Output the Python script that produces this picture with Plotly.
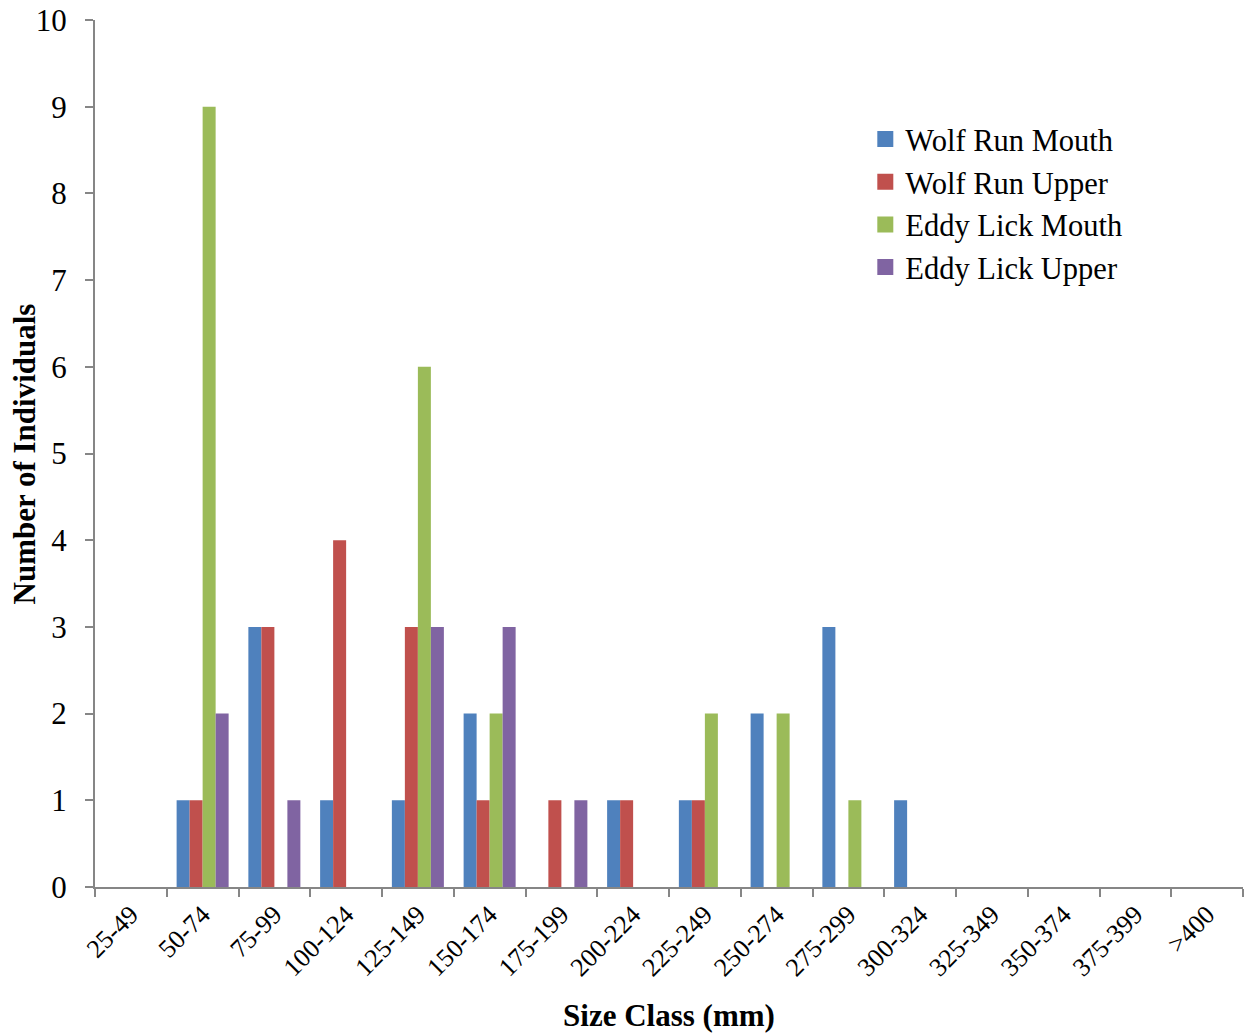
import plotly.graph_objects as go

categories = ["25-49", "50-74", "75-99", "100-124", "125-149", "150-174", "175-199",
              "200-224", "225-249", "250-274", "275-299", "300-324", "325-349",
              "350-374", "375-399", ">400"]
wolf_run_mouth = [0, 1, 3, 1, 1, 2, 0, 1, 1, 2, 3, 1, 0, 0, 0, 0]
wolf_run_upper = [0, 1, 3, 4, 3, 1, 1, 1, 1, 0, 0, 0, 0, 0, 0, 0]
eddy_lick_mouth = [0, 9, 0, 0, 6, 2, 0, 0, 2, 2, 1, 0, 0, 0, 0, 0]
eddy_lick_upper = [0, 2, 1, 0, 3, 3, 1, 0, 0, 0, 0, 0, 0, 0, 0, 0]
y_ticks = [0, 1, 2, 3, 4, 5, 6, 7, 8, 9, 10]

series = [
    ("Wolf Run Mouth", wolf_run_mouth, "#4F81BD"),
    ("Wolf Run Upper", wolf_run_upper, "#C0504D"),
    ("Eddy Lick Mouth", eddy_lick_mouth, "#9BBB59"),
    ("Eddy Lick Upper", eddy_lick_upper, "#8064A2"),
]

FONT = "Liberation Serif, Times New Roman, serif"
fig = go.Figure()
for name, vals, col in series:
    fig.add_trace(go.Bar(x=categories, y=vals, name=name, marker_color=col,
                         marker_line_width=0, showlegend=False))
# legend-only entries with larger square swatches
for name, vals, col in series:
    fig.add_trace(go.Scatter(x=[None], y=[None], mode="markers", name=name,
                             marker=dict(symbol="square", size=16, color=col,
                                         line=dict(width=0)),
                             showlegend=True))

fig.update_layout(
    width=1244, height=1033,
    margin=dict(l=95, r=1, t=20, b=146, autoexpand=False),
    barmode="group", bargap=0.275, bargroupgap=0,
    plot_bgcolor="white", paper_bgcolor="white",
    font=dict(family=FONT, color="black"),
    showlegend=True,
    legend=dict(x=0.671, y=0.893, xanchor="left", yanchor="top",
                font=dict(family=FONT, size=30.5, color="black"),
                bgcolor="rgba(0,0,0,0)", tracegroupgap=0, itemwidth=30),
)
fig.update_xaxes(
    type="category", showline=True, linecolor="#868686", linewidth=2,
    ticks="outside", tickson="boundaries", ticklen=8, tickcolor="#868686", tickwidth=2,
    tickangle=-45, tickfont=dict(family=FONT, size=26, color="black"),
    showgrid=False, zeroline=False, ticklabeloverflow="allow",
    title=dict(text="<b>Size Class (mm)</b>", font=dict(family=FONT, size=31, color="black"),
               standoff=23),
)
fig.update_yaxes(
    range=[0, 10], tickvals=y_ticks, showline=True, linecolor="#868686", linewidth=2,
    ticks="outside", ticklen=8, tickcolor="#868686", tickwidth=2,
    tickfont=dict(family=FONT, size=31, color="black"),
    showgrid=False, zeroline=False, ticklabelstandoff=12, ticklabeloverflow="allow",
)
fig.add_annotation(
    text="<b>Number of Individuals</b>", textangle=-90,
    xref="paper", yref="paper", x=-0.061, y=0.50, xanchor="center", yanchor="middle",
    showarrow=False, font=dict(family=FONT, size=31, color="black"),
)
fig.write_html("out.html", config={"displayModeBar": False},
               post_script="document.body.style.margin='0';document.body.style.overflow='hidden';")
